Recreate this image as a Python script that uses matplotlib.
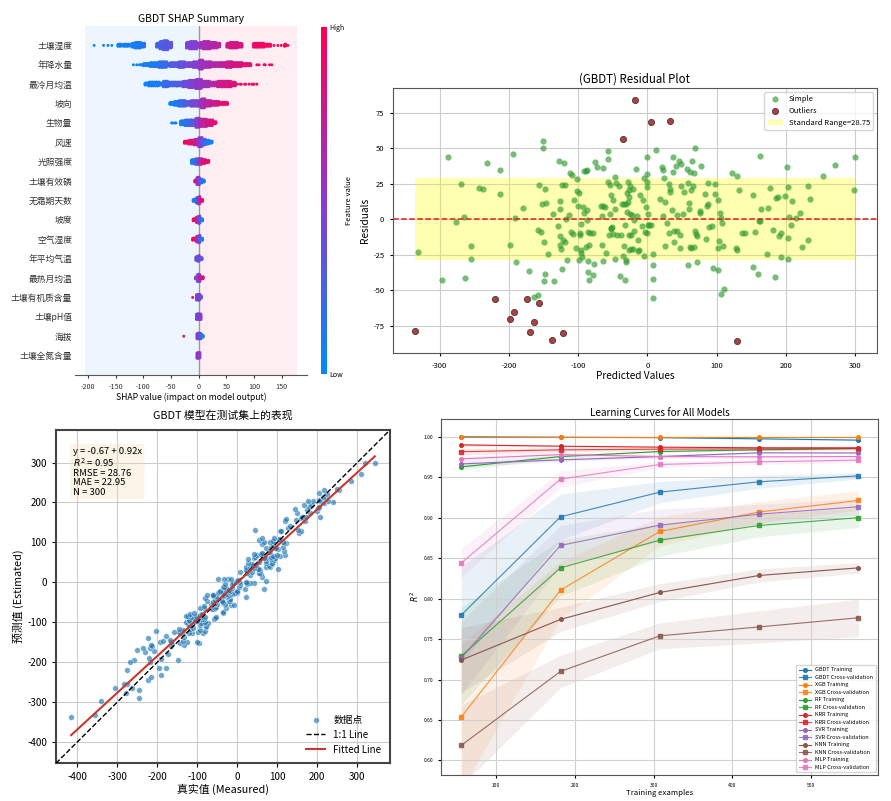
import numpy as np
import matplotlib
matplotlib.use('Agg')
import matplotlib.pyplot as plt
from matplotlib.colors import LinearSegmentedColormap
from matplotlib.cm import ScalarMappable
from matplotlib.ticker import MultipleLocator, FormatStrFormatter

plt.rcParams['font.family'] = ['Noto Sans CJK SC', 'DejaVu Sans']
plt.rcParams['axes.unicode_minus'] = False

# ---------------- SHAP summary data ----------------
features = ['土壤湿度', '年降水量', '最冷月均温', '坡向', '生物量', '风速', '光照强度',
            '土壤有效磷', '无霜期天数', '坡度', '空气湿度', '年平均气温', '最热月均温',
            '土壤有机质含量', '土壤pH值', '海拔', '土壤全氮含量']

# swarm profile per feature: (shap from, shap to, half height in dots, feature value 0-1)
swarm_profiles = [
    [(-189, -189, 0, .02), (-172, -172, 0, .03), (-164, -164, 0, .03), (-157, -157, 0, .04),
     (-146, -140, 1, .05), (-136, -125, 1, .07), (-121, -115, 2, .08), (-115, -104, 3, .10),
     (-104, -97, 2, .12), (-76, -70, 2, .25), (-70, -64, 4, .28), (-64, -55, 5, .30),
     (-55, -48, 3, .33), (-22, -16, 3, .42), (-16, -4, 4, .46), (-4, -1, 2, .50),
     (2, 8, 3, .58), (8, 20, 4, .62), (20, 32, 3, .66), (32, 39, 2, .68),
     (51, 56, 2, .78), (56, 70, 3, .80), (70, 78, 2, .82), (99, 106, 2, .92),
     (106, 118, 2, .94), (118, 130, 1, .95), (136, 136, 0, .97), (143, 143, 0, .97),
     (149, 149, 0, .97), (155, 158, 1, .98), (161, 161, 0, .98)],
    [(-118, -118, 0, .02), (-112, -112, 0, .03), (-107, -100, 0, .04), (-100, -88, 1, .06),
     (-88, -72, 2, .10), (-72, -58, 3, .18), (-58, -52, 1, .24), (-52, -36, 2, .30),
     (-36, -26, 3, .35), (-26, -10, 2, .42), (-10, -1, 3, .48), (1, 8, 5, .56),
     (8, 22, 3, .60), (22, 40, 2, .66), (40, 50, 2, .72), (50, 60, 3, .76),
     (60, 78, 2, .82), (78, 94, 1, .88), (105, 105, 0, .94), (109, 109, 0, .95),
     (118, 121, 0, .96), (128, 128, 0, .97), (132, 132, 0, .97)],
    [(-97, -90, 1, .03), (-90, -72, 2, .08), (-72, -64, 1, .14), (-64, -56, 3, .18),
     (-56, -40, 2, .24), (-40, -28, 2, .30), (-28, -18, 3, .38), (-18, -5, 4, .45),
     (-5, 5, 5, .52), (5, 20, 3, .58), (20, 34, 2, .66), (34, 42, 3, .74),
     (42, 58, 3, .80), (58, 66, 2, .84), (70, 70, 0, .88), (75, 78, 0, .90),
     (83, 86, 0, .92), (91, 91, 0, .93), (96, 100, 0, .94), (105, 105, 0, .95)],
    [(-52, -44, 1, .05), (-44, -36, 2, .10), (-36, -24, 3, .20), (-24, -14, 2, .30),
     (-14, -2, 3, .42), (0, 5, 3, .52), (5, 12, 5, .60), (12, 22, 3, .68),
     (22, 36, 2, .78), (36, 52, 1, .88)],
    [(-49, -46, 0, .03), (-43, -40, 0, .05), (-33, -25, 2, .10), (-25, -15, 3, .18),
     (-15, -5, 3, .30), (-5, 2, 5, .45), (2, 15, 4, .70), (15, 25, 3, .82), (25, 31, 1, .90)],
    [(-26, -18, 1, .95), (-18, -8, 2, .88), (-8, 0, 3, .70), (0, 6, 5, .50),
     (6, 12, 3, .30), (12, 18, 2, .15), (18, 25, 1, .05)],
    [(-13, -6, 2, .08), (-6, 0, 3, .25), (0, 6, 3, .60), (6, 12, 2, .80), (12, 19, 1, .92)],
    [(-7, -3, 1, .90), (-3, 2, 4, .55), (2, 6, 2, .30), (6, 11, 1, .08)],
    [(-10, -4, 1, .10), (-4, 0, 3, .35), (0, 3, 4, .60), (3, 8, 1, .90)],
    [(-10, -4, 1, .92), (-4, 0, 3, .70), (0, 3, 4, .40), (3, 7, 1, .10)],
    [(-11, -4, 1, .92), (-4, 0, 3, .65), (0, 3, 4, .40), (3, 8, 1, .08)],
    [(-5, -1, 2, .35), (-1, 2, 3, .50), (2, 6, 1, .30)],
    [(-6, -2, 1, .40), (-2, 2, 4, .45), (2, 9, 1, .85)],
    [(-11, -11, 0, .90), (-4, 0, 3, .40), (0, 3, 3, .55), (3, 6, 1, .30)],
    [(-4, 0, 3, .40), (0, 4, 3, .50)],
    [(-27, -27, 0, .90), (-3, 0, 3, .50), (0, 4, 3, .40), (4, 9, 1, .10)],
    [(-3, 0, 3, .60), (0, 3, 3, .50)],
]

# ---------------- residual data (predicted, residual) ----------------
simple_pts = [
    (-331.3, -23.0), (-296.7, -43.1), (-288.5, 44.1), (-276.0, -1.9), (-269.7, 24.6), (-265.4, 1.9),
    (-264.0, -41.5), (-255.3, -19.0), (-254.3, -28.1), (-243.7, 21.8), (-237.0, 21.1), (-231.2, 39.6),
    (-213.4, 34.7), (-213.4, 17.8), (-198.5, -18.3), (-194.6, 45.7), (-191.8, 0.7), (-189.4, -30.5),
    (-180.2, 7.7), (-171.1, -36.8), (-164.4, -54.6), (-158.6, -53.4), (-158.6, -7.7), (-157.1, 24.1),
    (-153.8, -8.7), (-152.8, 10.8), (-151.4, 55.3), (-150.4, 49.9), (-149.9, -16.4), (-149.0, -43.8),
    (-148.0, 21.6), (-147.5, -38.9), (-146.0, 11.3), (-143.2, -24.4), (-136.4, 3.5), (-135.0, -43.8),
    (-129.7, -4.7), (-127.3, 41.0), (-126.8, 12.7), (-126.8, 7.3), (-126.3, -11.5), (-125.8, -18.3),
    (-125.3, -20.9), (-123.0, -35.2), (-123.0, 24.4), (-122.0, -14.8), (-120.5, 39.6), (-119.6, -16.4),
    (-118.6, 24.4), (-117.6, -0.2), (-116.7, -28.8), (-113.3, 3.0), (-111.4, 32.8), (-109.9, -8.9),
    (-108.5, 31.4), (-107.5, -10.3), (-106.6, 13.6), (-103.2, -20.2), (-102.3, 28.6), (-101.8, 19.9),
    (-100.8, 9.4), (-98.4, 18.8), (-98.4, -28.6), (-97.5, -11.3), (-97.0, -9.4), (-96.5, -3.3),
    (-96.5, -22.0), (-95.5, -23.9), (-94.6, -26.3), (-92.6, 8.9), (-92.1, 34.0), (-91.7, 4.5),
    (-89.3, 34.0), (-89.3, -19.5), (-87.3, 34.7), (-86.8, -0.7), (-86.8, 6.8), (-86.4, -29.5),
    (-85.9, -8.9), (-85.4, -37.0), (-84.9, -18.3), (-84.5, -43.1), (-82.5, -9.8), (-78.7, -9.8),
    (-78.7, -39.4), (-77.2, -31.4), (-75.7, 40.1), (-73.4, 37.0), (-66.6, 9.1), (-66.2, 2.6),
    (-65.2, -18.5), (-64.7, -29.5), (-64.2, 9.4), (-63.8, 36.3), (-61.4, 8.9), (-59.4, -23.7),
    (-57.5, 42.2), (-56.5, 48.1), (-56.5, 26.3), (-55.1, -10.8), (-54.6, 24.1), (-54.1, 3.5),
    (-53.2, -5.9), (-52.7, -7.0), (-52.2, 16.9), (-50.8, -5.2), (-50.3, -10.5), (-49.8, 13.8),
    (-47.4, 29.5), (-46.4, -27.9), (-46.0, 7.5), (-45.5, 25.3), (-44.0, -10.8), (-41.1, 23.4),
    (-40.2, -39.8), (-38.7, -11.0), (-36.8, 10.8), (-34.9, -26.0), (-34.4, -19.2), (-33.9, 10.8),
    (-32.9, -3.8), (-32.5, -43.1), (-31.5, 11.0), (-31.0, -30.2), (-30.6, -28.8), (-29.6, 4.9),
    (-29.1, 18.8), (-28.6, 12.2), (-27.7, 26.0), (-27.2, -22.0), (-27.2, -11.3), (-26.7, 15.5),
    (-26.2, 20.6), (-25.3, 3.5), (-24.8, 23.4), (-24.3, -21.3), (-23.4, -11.0), (-21.9, 2.8),
    (-21.4, -21.1), (-20.5, 21.1), (-19.5, -8.0), (-19.5, -0.5), (-16.6, 35.4), (-15.2, 2.6),
    (-14.2, -14.5), (-12.8, -22.7), (-11.8, -22.0), (-11.3, 16.9), (-7.9, -4.7), (-6.5, 13.6),
    (-5.1, -25.6), (-4.1, 28.8), (-3.1, -8.9), (-2.2, 8.9), (-1.2, 44.1), (-1.2, 32.1),
    (-1.2, 26.0), (-0.7, -9.8), (0.2, 22.7), (1.0, 4.0), (1.2, -3.8), (3.1, -3.8),
    (5.5, -3.8), (8.4, -32.3), (8.4, -42.2), (7.9, -55.8), (8.9, -24.6), (12.7, 48.5),
    (18.5, 14.1), (21.9, 37.0), (22.4, 34.7), (23.3, 2.3), (24.3, 29.1), (25.7, 12.0),
    (25.7, -19.2), (28.1, -3.0), (30.6, -9.6), (31.5, 24.8), (32.5, 21.6), (32.5, 19.0),
    (35.8, 6.3), (37.7, 33.0), (37.7, 43.6), (38.2, -16.2), (38.7, -8.0), (41.1, 37.5),
    (43.1, 3.0), (43.5, -8.2), (45.5, 40.8), (46.9, -10.8), (47.4, -20.6), (48.8, 23.7),
    (49.3, 38.7), (51.7, 3.5), (53.2, 19.0), (57.0, 35.6), (58.5, -32.3), (59.4, 25.8),
    (59.9, 11.7), (60.4, 7.5), (61.8, -19.7), (61.8, 33.5), (62.8, 20.6), (63.8, -20.4),
    (65.2, 41.3), (66.6, 23.4), (67.6, 32.3), (67.6, -19.5), (69.1, 49.9), (69.5, -8.0),
    (70.5, -10.1), (71.9, -30.5), (72.4, -11.5), (75.8, 6.1), (76.3, 4.2), (78.2, 37.5),
    (83.5, 17.6), (84.9, -14.1), (85.9, 9.6), (87.3, 10.5), (88.3, 25.5), (89.7, -5.6),
    (93.1, -4.7), (95.5, -34.5), (98.4, 24.6), (98.4, 17.8), (101.8, 13.6), (101.8, -20.4),
    (101.8, -35.6), (104.2, -15.7), (105.1, 4.7), (106.1, 0.7), (107.1, -52.7), (108.0, -2.8),
    (110.0, -19.2), (111.4, -49.0), (122.9, 32.3), (127.8, -20.2), (129.2, 30.5), (129.7, -21.6),
    (132.1, 20.6), (136.4, -9.4), (141.7, -9.8), (152.8, 17.1), (152.8, -34.0), (155.7, -8.9),
    (159.5, -38.4), (161.0, -1.2), (162.9, 44.3), (163.4, -1.4), (164.8, 7.3), (173.5, -24.6),
    (174.0, 8.0), (177.8, 22.0), (181.2, -7.7), (184.1, -40.6), (185.5, 15.2), (188.9, 15.9),
    (189.9, -11.5), (192.8, -9.8), (192.8, -26.3), (199.5, 16.6), (201.9, 37.0), (203.4, 23.0),
    (203.4, -13.4), (203.8, -27.9), (204.8, 1.4), (207.2, -3.8), (209.7, 12.9), (214.4, 0.9),
    (221.2, 4.2), (224.1, -19.9), (231.7, 23.4), (232.2, -14.8), (234.6, 14.1), (253.9, 30.2),
    (271.7, 38.4), (299.1, 20.4), (300.0, 43.6),
]
outlier_pts = [
    (-336.1, -78.8), (-219.6, -56.3), (-193.2, -65.2), (-198.5, -70.1), (-174.4, -56.5),
    (-170.1, -79.7), (-163.9, -72.2), (-156.2, -59.3), (-138.4, -84.9), (-122.5, -80.4),
    (-35.4, 56.7), (-17.1, 83.7), (4.6, 68.2), (32.9, 68.9), (130.1, -86.0),
]
resid_std = 28.75

# ---------------- test-set metrics ----------------
fit_intercept = -0.67
fit_slope = 0.92
r2_val = 0.95
rmse_val = 28.76
mae_val = 22.95
n_val = 300

# ---------------- learning curves ----------------
train_sizes = [56, 182, 308, 434, 560]
models = ['GBDT', 'XGB', 'RF', 'KRR', 'SVR', 'KNN', 'MLP']
train_mean = [
    [1.000, 0.9995, 0.9990, 0.9975, 0.9959],
    [1.000, 1.000, 1.000, 1.000, 1.000],
    [0.9628, 0.9756, 0.9818, 0.9839, 0.9855],
    [0.9900, 0.9884, 0.9872, 0.9864, 0.9864],
    [0.9665, 0.9715, 0.9756, 0.9802, 0.9800],
    [0.724, 0.7743, 0.8076, 0.8286, 0.838],
    [0.9727, 0.978, 0.9756, 0.9752, 0.9756],
]
train_std = [
    [0.0002, 0.0003, 0.0005, 0.0008, 0.001],
    [0.0002, 0.0002, 0.0002, 0.0002, 0.0002],
    [0.004, 0.002, 0.001, 0.001, 0.001],
    [0.002, 0.001, 0.001, 0.001, 0.001],
    [0.004, 0.002, 0.002, 0.001, 0.001],
    [0.04, 0.015, 0.011, 0.008, 0.0066],
    [0.003, 0.003, 0.002, 0.002, 0.002],
]
cv_mean = [
    [0.7796, 0.9011, 0.9316, 0.9444, 0.9518],
    [0.6536, 0.8105, 0.883, 0.907, 0.9213],
    [0.729, 0.838, 0.8723, 0.8904, 0.900],
    [0.9816, 0.9839, 0.9847, 0.9851, 0.9855],
    [0.7265, 0.8657, 0.8908, 0.9044, 0.9135],
    [0.6185, 0.710, 0.754, 0.765, 0.7763],
    [0.8439, 0.9477, 0.9658, 0.969, 0.9712],
]
cv_std = [
    [0.06, 0.028, 0.013, 0.008, 0.004],
    [0.09, 0.035, 0.018, 0.013, 0.012],
    [0.06, 0.035, 0.02, 0.014, 0.012],
    [0.004, 0.003, 0.002, 0.002, 0.002],
    [0.045, 0.025, 0.02, 0.012, 0.01],
    [0.05, 0.02, 0.016, 0.02, 0.023],
    [0.018, 0.01, 0.004, 0.003, 0.003],
]

fig = plt.figure(figsize=(8.91, 8.01), dpi=100)

# ===== 1. SHAP beeswarm =====
shap_cmap = LinearSegmentedColormap.from_list('shap_rb', ['#008bfb', '#8a3ad0', '#ff0052'])
ax1 = fig.add_axes([0.0842, 0.5318, 0.2604, 0.4357])
ax1.axvspan(-205, 0, color='#008bfb', alpha=0.07, lw=0)
ax1.axvspan(0, 177, color='#ff0052', alpha=0.07, lw=0)
ax1.axvline(0, color='#999999', lw=1, zorder=1)
n_feat = len(features)
for i, prof in enumerate(swarm_profiles):
    row = n_feat - 1 - i
    xs, ys, cs = [], [], []
    for lo, hi, h, c in prof:
        for m, x in enumerate(np.arange(lo, hi + 0.01, 2.0)):
            # stagger every other column a little, like a beeswarm
            shift = 0.0225 if (m % 2 and h > 0) else 0.0
            for k in range(-h, h + 1):
                xs.append(x)
                ys.append(row + k * 0.045 + shift)
                cs.append(c)
    ax1.scatter(xs, ys, c=cs, cmap=shap_cmap, vmin=0, vmax=1, s=4.5, lw=0, zorder=3)
ax1.set_xlim(-223.5, 195.7)
ax1.set_ylim(-1, n_feat)
ax1.set_yticks(range(n_feat))
ax1.set_yticklabels(features[::-1])
ax1.xaxis.set_major_locator(MultipleLocator(50))
for s in ['left', 'right', 'top']:
    ax1.spines[s].set_visible(False)
ax1.spines['bottom'].set_color('#555555')
ax1.tick_params(axis='y', length=0, labelsize=6.3, colors='#333333', pad=2)
ax1.tick_params(axis='x', labelsize=5.2, length=2.5, colors='#333333')
ax1.set_xlabel('SHAP value (impact on model output)', fontsize=6.2, labelpad=1)
ax1.set_title('GBDT SHAP Summary', fontsize=7.5, pad=3)

cax = fig.add_axes([0.3603, 0.5331, 0.0062, 0.4332])
sm = ScalarMappable(cmap=shap_cmap)
sm.set_array([0, 1])
cb = fig.colorbar(sm, cax=cax, ticks=[0, 1])
cb.set_ticklabels(['Low', 'High'])
cb.outline.set_visible(False)
cax.tick_params(length=0, labelsize=5, pad=2)
cb.set_label('Feature value', fontsize=5.5, labelpad=0)

# ===== 2. residual plot =====
sp = np.array(simple_pts)
op = np.array(outlier_pts)
all_pred = np.concatenate([sp[:, 0], op[:, 0]])
ax2 = fig.add_axes([0.4407, 0.5589, 0.5436, 0.3308])
h_simple = ax2.scatter(sp[:, 0], sp[:, 1], color='#2e9a2e', alpha=0.65, s=20, lw=0,
                       zorder=3, label='Simple')
h_out = ax2.scatter(op[:, 0], op[:, 1], color='#a01010', alpha=0.8, s=20, lw=0.6,
                    edgecolors='#222222', zorder=3, label='Outliers')
ax2.axhline(0, color='#e02020', ls='--', lw=1.1, zorder=4)
h_band = ax2.fill_between([all_pred.min(), all_pred.max()], -resid_std, resid_std,
                          color='yellow', alpha=0.3, lw=0, zorder=2,
                          label=f'Standard Range={resid_std}')
ax2.grid(True, color='#cccccc', lw=0.8)
ax2.set_axisbelow(True)
ax2.legend(handles=[h_simple, h_out, h_band], loc='upper right', fontsize=5.5)
ax2.tick_params(labelsize=5.5, length=2.5)
for s in ax2.spines.values():
    s.set_color('#555555')
ax2.set_title('(GBDT) Residual Plot', fontsize=8.3, pad=4)
ax2.set_xlabel('Predicted Values', fontsize=7.3, labelpad=1)
ax2.set_ylabel('Residuals', fontsize=7.3, labelpad=2)

# ===== 3. measured vs estimated =====
estimated = all_pred
measured = np.concatenate([sp[:, 0] + sp[:, 1], op[:, 0] + op[:, 1]])
ax3 = fig.add_axes([0.0628, 0.0471, 0.3749, 0.4161])
ax3.scatter(measured, estimated, color='#1f77b4', alpha=0.65, s=17, lw=0.4,
            edgecolors='white', zorder=3, label='数据点')
mn = min(measured.min(), estimated.min())
mx = max(measured.max(), estimated.max())
pad = 0.05 * (mx - mn)
lims = [mn - pad, mx + pad]
ax3.plot(lims, lims, 'k--', lw=1, zorder=4, label='1:1 Line')
fx = np.array([measured.min(), measured.max()])
ax3.plot(fx, fit_intercept + fit_slope * fx, color='#c8372d', lw=1.5, zorder=5, label='Fitted Line')
ax3.set_xlim(lims)
ax3.set_ylim(lims)
ax3.grid(True, color='#cccccc', lw=0.8)
ax3.set_axisbelow(True)
for s in ax3.spines.values():
    s.set_linewidth(1.5)
    s.set_color('#444444')
ax3.tick_params(labelsize=7, length=3)
stats = (f'y = {fit_intercept} + {fit_slope}x\n$R^2$ = {r2_val}\nRMSE = {rmse_val}\n'
         f'MAE = {mae_val}\nN = {n_val}')
ax3.text(0.05, 0.95, stats, transform=ax3.transAxes, fontsize=6.8, va='top', ha='left',
         linespacing=1.05, bbox=dict(boxstyle='round', facecolor='wheat', alpha=0.3, lw=0))
ax3.legend(loc='lower right', frameon=False, fontsize=7)
ax3.set_xlabel('真实值 (Measured)', fontsize=7.8, labelpad=1)
ax3.set_ylabel('预测值 (Estimated)', fontsize=7.8, labelpad=2)
ax3.set_title('GBDT 模型在测试集上的表现', fontsize=7.8, pad=8)

# ===== 4. learning curves =====
colors = plt.cm.tab10.colors
ax4 = fig.add_axes([0.4953, 0.0325, 0.4905, 0.4444])
for j, name in enumerate(models):
    col = colors[j]
    tm, ts = np.array(train_mean[j]), np.array(train_std[j])
    cm_, cs_ = np.array(cv_mean[j]), np.array(cv_std[j])
    ax4.fill_between(train_sizes, tm - ts, tm + ts, color=col, alpha=0.1, lw=0)
    ax4.fill_between(train_sizes, cm_ - cs_, cm_ + cs_, color=col, alpha=0.1, lw=0)
    ax4.plot(train_sizes, tm, 'o-', color=col, lw=0.8, ms=2.6, label=f'{name} Training')
    ax4.plot(train_sizes, cm_, 's-', color=col, lw=0.8, ms=2.6, alpha=0.85,
             label=f'{name} Cross-validation')
ax4.set_ylim(0.582, 1.022)
ax4.yaxis.set_major_locator(MultipleLocator(0.05))
ax4.yaxis.set_major_formatter(FormatStrFormatter('%.2f'))
ax4.xaxis.set_major_locator(MultipleLocator(100))
ax4.grid(True, color='#d0d0d0', lw=0.8)
ax4.tick_params(labelsize=3.6, length=2)
for s in ax4.spines.values():
    s.set_color('#555555')
ax4.legend(loc='lower right', fontsize=4, handlelength=2.2, labelspacing=0.45)
ax4.set_title('Learning Curves for All Models', fontsize=7.2, pad=2)
ax4.set_xlabel('Training examples', fontsize=5.6, labelpad=1)
ax4.set_ylabel('$R^2$', fontsize=5.6, labelpad=2)

fig.savefig('out.png', dpi=100)
